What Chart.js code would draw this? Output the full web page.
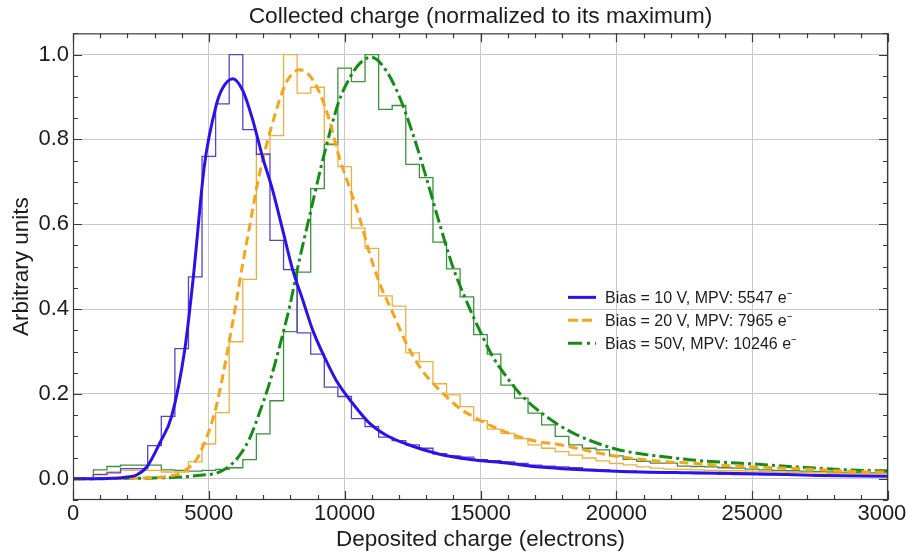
<!DOCTYPE html>
<html>
<head>
<meta charset="utf-8">
<title>Collected charge</title>
<script src="https://cdn.jsdelivr.net/npm/chart.js@4.4.1/dist/chart.umd.min.js"></script>
<style>
  html, body { margin: 0; padding: 0; background: #fff; }
  #wrap { width: 907px; height: 553px; }
</style>
</head>
<body>
<div id="wrap"><canvas id="chargeChart" width="907" height="553"></canvas></div>
<script>
// ==== Histogram bins (centres, electrons) ====
const binCenters = [
  1000, 1500, 2000, 2500, 3000, 3500, 4000, 4500, 5000, 5500,
  6000, 6500, 7000, 7500, 8000, 8500, 9000, 9500, 10000, 10500,
  11000, 11500, 12000, 12500, 13000, 13500, 14000, 14500, 15000, 15500,
  16000, 16500, 17000, 17500, 18000, 18500, 19000, 19500, 20000, 20500,
  21000, 21500, 22000, 22500, 23000, 23500, 24000, 24500, 25000, 25500,
  26000, 26500, 27000, 27500, 28000, 28500, 29000, 29500
];
const binWidth = 500;

const hist10V = [
  0.010, 0.014, 0.024, 0.024, 0.078, 0.147, 0.307, 0.476, 0.760, 0.884,
  1.000, 0.823, 0.765, 0.562, 0.493, 0.344, 0.294, 0.216, 0.194, 0.142,
  0.123, 0.098, 0.090, 0.080, 0.072, 0.059, 0.054, 0.051, 0.045, 0.043,
  0.040, 0.036, 0.032, 0.030, 0.028, 0.026, 0.022, 0.021, 0.019, 0.018,
  0.017, 0.015, 0.015, 0.013, 0.012, 0.012, 0.011, 0.010, 0.010, 0.009,
  0.009, 0.008, 0.008, 0.007, 0.008, 0.006, 0.007, 0.006
];
const hist20V = [
  0.011, 0.016, 0.020, 0.020, 0.020, 0.016, 0.016, 0.040, 0.082, 0.156,
  0.323, 0.470, 0.765, 0.809, 1.000, 0.909, 0.923, 0.790, 0.736, 0.591,
  0.543, 0.431, 0.407, 0.297, 0.276, 0.224, 0.198, 0.170, 0.137, 0.117,
  0.107, 0.095, 0.080, 0.072, 0.064, 0.056, 0.049, 0.042, 0.036, 0.033,
  0.028, 0.025, 0.023, 0.022, 0.021, 0.020, 0.019, 0.019, 0.018, 0.017,
  0.016, 0.015, 0.015, 0.014, 0.013, 0.013, 0.012, 0.012
];
const hist50V = [
  0.021, 0.029, 0.032, 0.032, 0.032, 0.021, 0.020, 0.018, 0.020, 0.022,
  0.026, 0.045, 0.106, 0.184, 0.347, 0.487, 0.684, 0.788, 0.968, 0.936,
  1.000, 0.871, 0.880, 0.741, 0.710, 0.558, 0.495, 0.429, 0.340, 0.294,
  0.221, 0.190, 0.155, 0.127, 0.100, 0.080, 0.072, 0.068, 0.054, 0.046,
  0.041, 0.037, 0.037, 0.030, 0.029, 0.028, 0.026, 0.025, 0.023, 0.021,
  0.020, 0.019, 0.018, 0.017, 0.016, 0.015, 0.015, 0.014
];

// ==== Fitted curves (sampled along x) ====
const fit10VX = [0, 1000, 1500, 2000, 2340, 2730, 3200, 3630, 4120, 4430, 4840, 5270, 5500, 5880, 6250, 6620, 6980, 7350, 7720, 8090, 8460, 8820, 9190, 9680, 10290, 10900, 11500, 12270, 13490, 14720, 15950, 17170, 20000, 22680, 25000, 27500, 30000];
const fit10VY = [0, 0, 0.001, 0.004, 0.009, 0.029, 0.085, 0.147, 0.307, 0.476, 0.740, 0.880, 0.920, 0.943, 0.915, 0.845, 0.758, 0.680, 0.586, 0.492, 0.421, 0.351, 0.296, 0.233, 0.178, 0.132, 0.104, 0.082, 0.058, 0.045, 0.037, 0.028, 0.018, 0.014, 0.012, 0.008, 0.006];

const fit20VX = [0, 2000, 3000, 3570, 4000, 4540, 4780, 5020, 5270, 5510, 5760, 6000, 6250, 6500, 6740, 6980, 7230, 7480, 7720, 7970, 8330, 8700, 9070, 9440, 9800, 10170, 10540, 10900, 11290, 11780, 12270, 12760, 13250, 13740, 14230, 14720, 15450, 16190, 17170, 17780, 19250, 20110, 21700, 22680, 24150, 26610, 29790, 30000];
const fit20VY = [0, 0.001, 0.003, 0.006, 0.015, 0.045, 0.076, 0.115, 0.170, 0.241, 0.327, 0.413, 0.508, 0.594, 0.680, 0.751, 0.813, 0.868, 0.915, 0.947, 0.964, 0.951, 0.911, 0.845, 0.758, 0.688, 0.617, 0.535, 0.460, 0.390, 0.319, 0.264, 0.225, 0.194, 0.166, 0.147, 0.123, 0.104, 0.087, 0.082, 0.062, 0.052, 0.041, 0.037, 0.031, 0.024, 0.016, 0.016];

const fit50VX = [0, 2000, 3000, 4000, 4780, 5270, 5760, 6130, 6500, 6860, 7230, 7600, 7970, 8330, 8700, 9070, 9440, 9800, 10170, 10540, 10980, 11530, 12020, 12510, 13000, 13490, 13980, 14470, 14960, 15450, 15950, 16430, 16920, 17780, 18500, 19250, 20110, 21000, 22000, 22680, 24150, 25000, 26610, 29790, 30000];
const fit50VY = [0, 0.001, 0.002, 0.004, 0.009, 0.013, 0.030, 0.055, 0.095, 0.155, 0.225, 0.311, 0.405, 0.515, 0.617, 0.719, 0.813, 0.892, 0.943, 0.978, 0.994, 0.962, 0.900, 0.813, 0.711, 0.602, 0.500, 0.421, 0.351, 0.288, 0.241, 0.202, 0.172, 0.131, 0.105, 0.085, 0.068, 0.058, 0.050, 0.045, 0.038, 0.035, 0.028, 0.019, 0.019];

const seriesLabels = [
  'Bias = 10 V, MPV: 5547 e\u207B',
  'Bias = 20 V, MPV: 7965 e\u207B',
  'Bias = 50V, MPV: 10246 e\u207B'
];

// ==== Axis ticks ====
const xMajorTicks = [0, 5000, 10000, 15000, 20000, 25000, 30000];
const yMajorTicks = [0, 0.2, 0.4, 0.6, 0.8, 1.0];
const xMinorStep = 1000;
const yMinorStep = 0.05;

const FONT = '"Liberation Sans", Arial, Helvetica, sans-serif';
const INK = '#1c1c1c';

// histogram -> points for a stepped line that follows the bin edges
function histPoints(centers, values) {
  const half = binWidth / 2;
  const pts = [{ x: centers[0] - half, y: 0 }];
  centers.forEach((c, i) => pts.push({ x: c - half, y: values[i] }));
  pts.push({ x: 30000, y: values[values.length - 1] });
  return pts;
}

function curvePoints(xs, ys) {
  return xs.map((x, i) => ({ x: x, y: ys[i] }));
}

// frame + inward tick marks on all four sides
const framePlugin = {
  id: 'frame',
  afterDatasetsDraw(chart) {
    const { ctx, chartArea: a, scales } = chart;
    const xs = scales.x, ys = scales.y;
    ctx.save();
    ctx.strokeStyle = '#3a3a3a';
    ctx.lineWidth = 1.2;
    ctx.strokeRect(a.left + 0.5, a.top + 0.5, a.right - a.left - 1, a.bottom - a.top - 1);

    ctx.beginPath();
    for (let v = xs.min; v <= xs.max + 1; v += xMinorStep) {
      const px = Math.round(xs.getPixelForValue(v)) + 0.5;
      const len = xMajorTicks.includes(v) ? 9 : 5;
      ctx.moveTo(px, a.bottom); ctx.lineTo(px, a.bottom - len);
      ctx.moveTo(px, a.top); ctx.lineTo(px, a.top + len);
    }
    for (let k = 0; ; k++) {
      const v = -0.05 + k * yMinorStep;
      if (v > ys.max + 1e-9) break;
      const py = Math.round(ys.getPixelForValue(v)) + 0.5;
      const major = yMajorTicks.some(t => Math.abs(t - v) < 1e-6);
      const len = major ? 9 : 5;
      ctx.moveTo(a.left, py); ctx.lineTo(a.left + len, py);
      ctx.moveTo(a.right, py); ctx.lineTo(a.right - len, py);
    }
    ctx.stroke();
    ctx.restore();
  }
};

// legend inside the plot area, fitted curves only
const insideLegend = {
  id: 'insideLegend',
  afterDraw(chart) {
    const { ctx, chartArea: a } = chart;
    const left = a.left + 495;
    let y = a.top + 264;
    ctx.save();
    ctx.font = '16px ' + FONT;
    ctx.textBaseline = 'middle';
    chart.data.datasets.filter(d => d.inLegend).forEach(d => {
      ctx.strokeStyle = d.borderColor;
      ctx.lineWidth = d.borderWidth;
      ctx.setLineDash(d.legendDash || []);
      ctx.beginPath();
      ctx.moveTo(left, y);
      ctx.lineTo(left + 28, y);
      ctx.stroke();
      ctx.setLineDash([]);
      ctx.fillStyle = INK;
      ctx.fillText(d.label, left + 37, y + 1);
      y += 23;
    });
    ctx.restore();
  }
};

const histStyle = { stepped: 'before', borderWidth: 1.3, pointRadius: 0, fill: false };
const curveStyle = { borderWidth: 3, pointRadius: 0, fill: false, cubicInterpolationMode: 'monotone', inLegend: true };

new Chart(document.getElementById('chargeChart'), {
  type: 'line',
  data: {
    datasets: [
      { ...curveStyle, label: seriesLabels[0], data: curvePoints(fit10VX, fit10VY),
        borderColor: '#2b12e6', order: 0 },
      { ...curveStyle, label: seriesLabels[1], data: curvePoints(fit20VX, fit20VY),
        borderColor: '#f5a41c', borderDash: [9, 5], legendDash: [10, 4], order: 1 },
      { ...curveStyle, label: seriesLabels[2], data: curvePoints(fit50VX, fit50VY),
        borderColor: '#168c16', borderDash: [13, 4, 3, 4], legendDash: [14, 5, 3, 5], order: 2 },
      { ...histStyle, label: 'hist 10 V', data: histPoints(binCenters, hist10V), borderColor: '#5a3fd0', order: 3 },
      { ...histStyle, label: 'hist 20 V', data: histPoints(binCenters, hist20V), borderColor: '#efae3e', order: 4 },
      { ...histStyle, label: 'hist 50 V', data: histPoints(binCenters, hist50V), borderColor: '#3a923a', order: 5 }
    ]
  },
  options: {
    responsive: false,
    animation: false,
    events: [],
    layout: { padding: { top: 0, right: 19, bottom: 0, left: 0 } },
    plugins: {
      legend: { display: false },
      tooltip: { enabled: false },
      title: {
        display: true,
        fullSize: false,
        text: 'Collected charge (normalized to its maximum)',
        color: INK,
        font: { family: FONT, size: 22.8, weight: 'normal' },
        padding: { top: 3, bottom: 3 }
      }
    },
    scales: {
      x: {
        type: 'linear',
        min: 0,
        max: 30000,
        afterBuildTicks: s => { s.ticks = xMajorTicks.map(v => ({ value: v })); },
        afterFit: s => { s.height = 53; s.paddingLeft = 0; s.paddingRight = 0; },
        ticks: {
          callback: v => String(v),
          color: INK,
          font: { family: FONT, size: 22 },
          padding: 1,
          maxRotation: 0,
          autoSkip: false
        },
        grid: { color: '#c9c9c9', lineWidth: 1, drawTicks: false },
        border: { display: false },
        title: {
          display: true,
          text: 'Deposited charge (electrons)',
          color: INK,
          font: { family: FONT, size: 22.5 },
          padding: { top: 0, bottom: 0 }
        }
      },
      y: {
        type: 'linear',
        min: -0.05,
        max: 1.05,
        afterBuildTicks: s => { s.ticks = yMajorTicks.map(v => ({ value: v })); },
        afterFit: s => { s.width = 73; s.paddingTop = 0; s.paddingBottom = 0; },
        ticks: {
          callback: v => Number(v).toFixed(1),
          color: INK,
          font: { family: FONT, size: 22 },
          padding: 4
        },
        grid: { color: '#c9c9c9', lineWidth: 1, drawTicks: false },
        border: { display: false },
        title: {
          display: true,
          text: 'Arbitrary units',
          color: INK,
          font: { family: FONT, size: 22.5 },
          padding: { top: 8, bottom: 0 }
        }
      }
    }
  },
  plugins: [framePlugin, insideLegend]
});
</script>
</body>
</html>
